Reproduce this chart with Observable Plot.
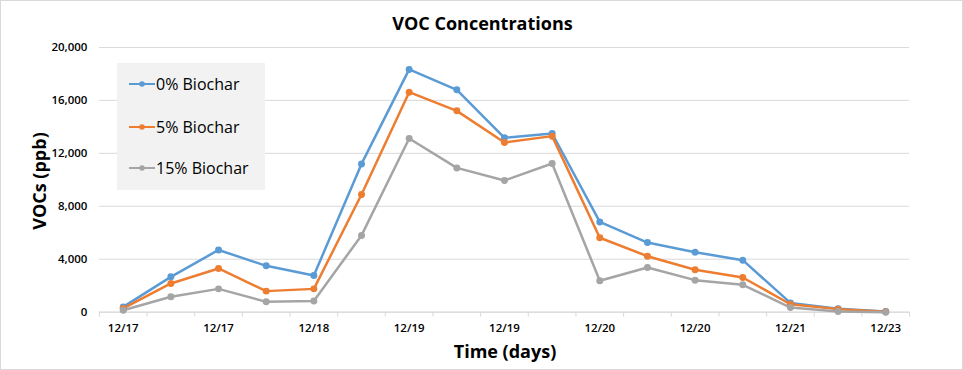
<!DOCTYPE html>
<html>
<head>
<meta charset="utf-8">
<script src="https://cdn.jsdelivr.net/npm/d3@7"></script>
<script src="https://cdn.jsdelivr.net/npm/@observablehq/plot@0.6"></script>
<style>
  html, body { margin: 0; padding: 0; background: #fff; }
  #wrap { position: relative; width: 963px; height: 370px; box-sizing: border-box; border: 1px solid #d9d9d9; overflow: hidden; font-family: "Open Sans", sans-serif; }
  #chart { position: absolute; left: -1px; top: -1px; }
  .title { position: absolute; left: 0; width: 963px; top: 10px; text-align: center; font-size: 18px; font-weight: 700; color: #000; }
  .xlabel { position: absolute; left: 404px; width: 200px; top: 338px; text-align: center; font-size: 18px; font-weight: 700; color: #000; }
  .ylabel { position: absolute; left: 38px; top: 180px; transform: translate(-50%, -50%) rotate(-90deg); font-size: 18px; font-weight: 700; color: #000; white-space: nowrap; }
  .legend { position: absolute; left: 116px; top: 62px; width: 148px; height: 127px; background: #f2f2f2; }
  .legend .item { position: absolute; left: 12px; height: 22px; display: flex; align-items: center; font-size: 16px; color: #000; }
  .legend svg { margin-right: 1px; }
</style>
</head>
<body>
<div id="wrap">
  <div id="chart"></div>
  <div class="title">VOC Concentrations</div>
  <div class="xlabel">Time (days)</div>
  <div class="ylabel">VOCs (ppb)</div>
  <div class="legend" id="legend"></div>
</div>
<script>
// Tick labels shown under every other point
const xTickLabels = ["12/17", "12/17", "12/18", "12/19", "12/19", "12/20", "12/20", "12/21", "12/23"];
const seriesNames = ["0% Biochar", "5% Biochar", "15% Biochar"];
const seriesColors = ["#5b9bd5", "#ed7d31", "#a5a5a5"];
const biochar0 = [400, 2670, 4700, 3500, 2770, 11200, 18340, 16800, 13170, 13500, 6820, 5260, 4530, 3930, 700, 250, 50];
const biochar5 = [280, 2170, 3300, 1590, 1760, 8890, 16620, 15210, 12820, 13300, 5620, 4230, 3200, 2620, 600, 230, 30];
const biochar15 = [150, 1160, 1760, 780, 850, 5800, 13120, 10900, 9950, 11230, 2370, 3380, 2420, 2070, 350, 50, 0];
const yTicks = [0, 4000, 8000, 12000, 16000, 20000];

const seriesValues = [biochar0, biochar5, biochar15];
const data = [];
seriesValues.forEach((vals, s) => vals.forEach((v, i) => data.push({series: seriesNames[s], i, v})));

const n = biochar0.length;
const labelTicks = xTickLabels.map((_, k) => k * 2);
const boundaryTicks = d3.range(n + 1).map(k => k - 0.5);

const chart = Plot.plot({
  width: 963,
  height: 370,
  marginTop: 47,
  marginBottom: 58,
  marginLeft: 99,
  marginRight: 53,
  style: {fontFamily: "Open Sans, sans-serif", fontSize: "11px", color: "#000", background: "transparent"},
  x: {domain: [-0.5, n - 0.5]},
  y: {domain: [0, 20000]},
  color: {domain: seriesNames, range: seriesColors},
  marks: [
    Plot.gridY(yTicks, {stroke: "#d9d9d9", strokeOpacity: 1, strokeWidth: 1}),
    Plot.ruleY([0], {stroke: "#d9d9d9", strokeWidth: 1}),
    Plot.axisX(boundaryTicks, {tickSize: 5, stroke: "#d9d9d9", text: null, label: null}),
    Plot.axisX(labelTicks, {tickSize: 0, tickPadding: 12, tickFormat: d => xTickLabels[d / 2], label: null, fontSize: 11.5, fontWeight: 600}),
    Plot.axisY(yTicks, {tickSize: 0, tickPadding: 12, tickFormat: d3.format(","), label: null, fontSize: 11.5, fontWeight: 600}),
    Plot.line(data, {x: "i", y: "v", z: "series", stroke: "series", strokeWidth: 2.5, curve: "linear"}),
    Plot.dot(data, {x: "i", y: "v", fill: "series", r: 3.5})
  ]
});
document.getElementById("chart").appendChild(chart);

const legend = document.getElementById("legend");
const tops = [10, 53, 94];
seriesNames.forEach((name, k) => {
  const item = document.createElement("div");
  item.className = "item";
  item.style.top = tops[k] + "px";
  item.innerHTML = `<svg width="26" height="10"><line x1="0" y1="5" x2="26" y2="5" stroke="${seriesColors[k]}" stroke-width="2"/><circle cx="13" cy="5" r="2.8" fill="${seriesColors[k]}"/></svg><span>${name}</span>`;
  legend.appendChild(item);
});
</script>
</body>
</html>
